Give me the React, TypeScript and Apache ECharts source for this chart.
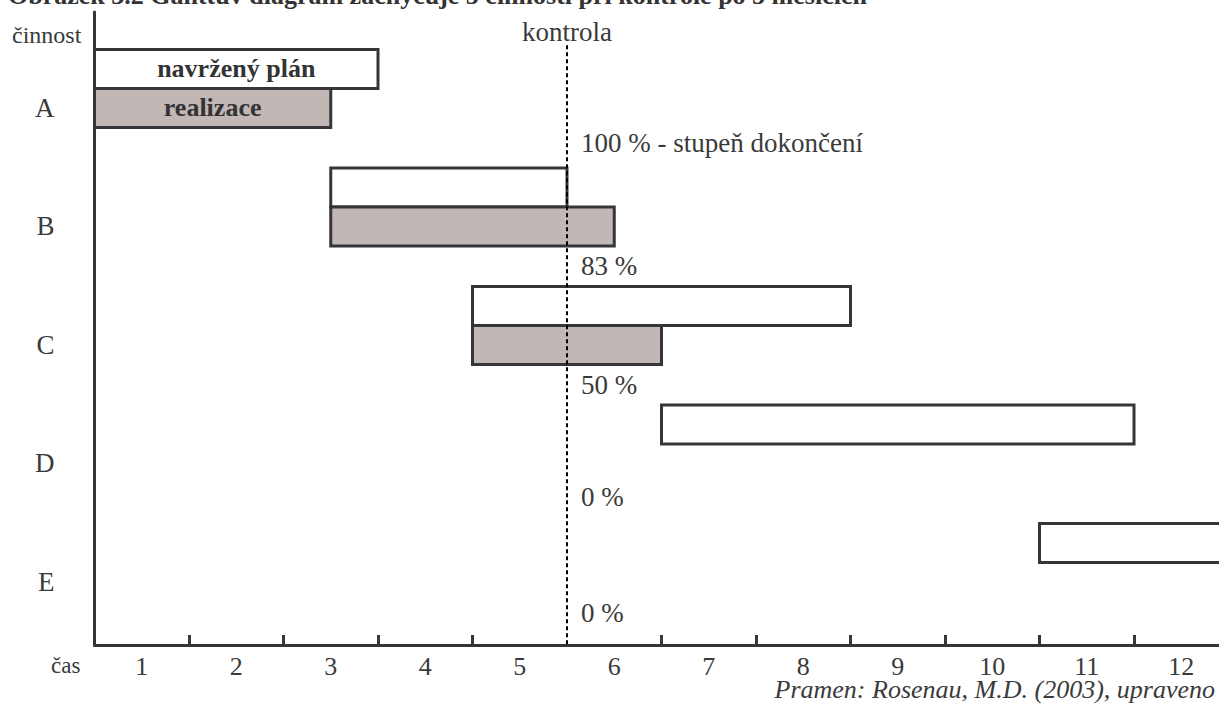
import React, { useEffect, useRef } from "react";
import * as echarts from "echarts";

// Activities and their planned / actual time spans (in months)
const rows = ["A", "B", "C", "D", "E"];
const planStart = [0, 2.5, 4, 6, 10];
const planEnd = [3, 5, 8, 11, 12];
const actualStart: (number | null)[] = [0, 2.5, 4, null, null];
const actualEnd: (number | null)[] = [2.5, 5.5, 6, null, null];
const completion = [100, 83, 50, 0, 0];
const controlMonth = 5;
const months = ["1", "2", "3", "4", "5", "6", "7", "8", "9", "10", "11", "12"];

const planLabel = "navržený plán";
const actualLabel = "realizace";
const completionNote = " - stupeň dokončení";

const FONT = "'Liberation Serif', 'Times New Roman', serif";
const INK = "#3a3a3a";
const EDGE = "#36363a";
const ACTUAL_FILL = "#c1b8b5";
// vertical offsets (px) of the completion notes below each row centre
const noteDy = [35, 40, 40, 34, 31];

export default function App() {
  const ref = useRef<HTMLDivElement>(null);

  useEffect(() => {
    if (!ref.current) return;
    const chart = echarts.init(ref.current, null, { renderer: "svg" });

    const bars: number[][] = [];
    rows.forEach((_, i) => {
      bars.push([i, planStart[i], planEnd[i], 0]);
      if (actualStart[i] != null && actualEnd[i] != null) {
        bars.push([i, actualStart[i] as number, actualEnd[i] as number, 1]);
      }
    });
    const notes = rows.map((_, i) => [i, completion[i]]);

    const BAR_H = 39;

    chart.setOption({
      animation: false,
      grid: {
        left: 94.5,
        top: 12,
        width: 1134,
        height: 633,
        outerBoundsMode: "none",
        containLabel: false,
      },
      xAxis: {
        type: "value",
        min: 0,
        max: 12,
        splitLine: { show: false },
        axisLine: { show: true, onZero: false, lineStyle: { color: EDGE, width: 3 } },
        axisTick: {
          show: true,
          inside: true,
          length: 10,
          customValues: [1, 2, 3, 4, 6, 7, 8, 9, 10, 11],
          lineStyle: { color: EDGE, width: 3 },
        },
        axisLabel: {
          customValues: months.map((_, i) => i + 0.5),
          formatter: (v: number) => months[Math.floor(v)] ?? "",
          margin: 8,
          color: INK,
          fontFamily: FONT,
          fontSize: 26,
        },
      },
      yAxis: {
        type: "value",
        inverse: true,
        min: -0.81,
        max: 4.532,
        splitLine: { show: false },
        axisLine: { show: true, onZero: false, lineStyle: { color: EDGE, width: 3 } },
        axisTick: { show: false },
        axisLabel: {
          customValues: rows.map((_, i) => i),
          formatter: (v: number) => rows[Math.round(v)] ?? "",
          margin: 40,
          color: INK,
          fontFamily: FONT,
          fontSize: 27,
        },
      },
      graphic: [
        {
          type: "text",
          x: 8,
          y: -5,
          style: {
            text: "Obrázek 3.2 Ganttův diagram zachycuje 5 činností při kontrole po 5 měsících",
            fill: "#333",
            font: `bold 26px ${FONT}`,
            verticalAlign: "middle",
          },
        },
        {
          type: "text",
          x: 12,
          y: 34.5,
          style: {
            text: "činnost",
            fill: INK,
            font: `24px ${FONT}`,
            verticalAlign: "middle",
          },
        },
        {
          type: "text",
          x: 51,
          y: 665,
          style: {
            text: "čas",
            fill: INK,
            font: `23px ${FONT}`,
            verticalAlign: "middle",
          },
        },
        {
          type: "text",
          x: 1215,
          y: 689,
          style: {
            text: "Pramen: Rosenau, M.D. (2003), upraveno",
            fill: INK,
            font: `italic 26px ${FONT}`,
            align: "right",
            verticalAlign: "middle",
          },
        },
      ],
      series: [
        {
          type: "custom",
          z: 2,
          data: bars,
          encode: { x: [1, 2], y: 0 },
          renderItem: (params: any, api: any) => {
            const row = api.value(0);
            const kind = api.value(3);
            const p0 = api.coord([api.value(1), row]);
            const p1 = api.coord([api.value(2), row]);
            const y = kind === 0 ? p0[1] - 19.5 - BAR_H : p0[1] - 19.5;
            const children: any[] = [
              {
                type: "rect",
                shape: { x: p0[0], y, width: p1[0] - p0[0], height: BAR_H },
                style: {
                  fill: kind === 0 ? "#ffffff" : ACTUAL_FILL,
                  stroke: EDGE,
                  lineWidth: 3,
                },
              },
            ];
            if (row === 0) {
              children.push({
                type: "text",
                x: (p0[0] + p1[0]) / 2,
                y: y + BAR_H / 2,
                style: {
                  text: kind === 0 ? planLabel : actualLabel,
                  fill: "#333",
                  font: `bold 26px ${FONT}`,
                  align: "center",
                  verticalAlign: "middle",
                },
              });
            }
            return { type: "group", children };
          },
        },
        {
          type: "custom",
          z: 3,
          data: notes,
          encode: { y: 0 },
          renderItem: (params: any, api: any) => {
            const row = api.value(0);
            const pct = api.value(1);
            const p = api.coord([controlMonth, row]);
            return {
              type: "text",
              x: p[0] + 14,
              y: p[1] + noteDy[row],
              style: {
                text: `${pct} %` + (row === 0 ? completionNote : ""),
                fill: INK,
                font: `27px ${FONT}`,
                verticalAlign: "middle",
              },
            };
          },
        },
        {
          type: "line",
          z: 5,
          data: [],
          markLine: {
            silent: true,
            symbol: "none",
            lineStyle: { color: "#000", width: 2, type: [4, 3] },
            label: {
              show: true,
              position: "start",
              formatter: "kontrola",
              color: INK,
              fontFamily: FONT,
              fontSize: 27,
              distance: 0,
            },
            data: [
              [
                { coord: [controlMonth, -0.53] },
                { coord: [controlMonth, 4.532] },
              ],
            ],
          },
        },
      ],
    });

    return () => chart.dispose();
  }, []);

  return (
    <div
      ref={ref}
      style={{ position: "absolute", left: 0, top: 0, width: 1219, height: 704 }}
    />
  );
}
